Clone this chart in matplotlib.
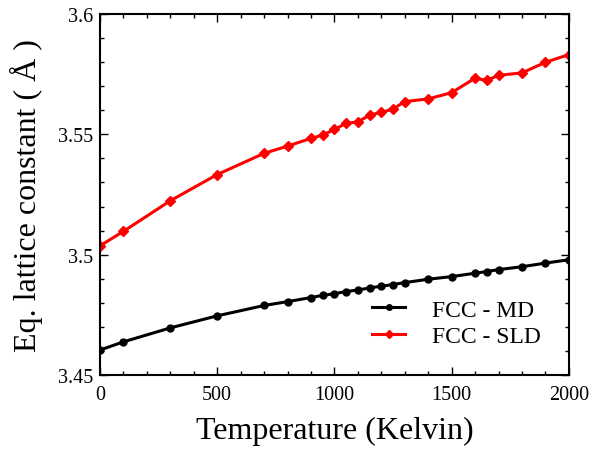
import numpy as np
import matplotlib.pyplot as plt
from matplotlib.ticker import MultipleLocator

plt.rcParams['font.family'] = ['Liberation Serif', 'DejaVu Serif']

temps = [0, 100, 300, 500, 700, 800, 900, 950, 1000, 1050, 1100, 1150,
         1200, 1250, 1300, 1400, 1500, 1600, 1650, 1700, 1800, 1900, 2000]

lat_md = [3.4604, 3.4638, 3.4696, 3.4746, 3.4789, 3.4805, 3.4822, 3.4831,
          3.4838, 3.4847, 3.4853, 3.4862, 3.4869, 3.4876, 3.4884, 3.4898,
          3.4909, 3.4923, 3.4930, 3.4938, 3.4950, 3.4965, 3.4979]

lat_sld = [3.5037, 3.5097, 3.5224, 3.5333, 3.5421, 3.5451, 3.5483, 3.5497,
           3.5520, 3.5546, 3.5551, 3.5580, 3.5591, 3.5605, 3.5636, 3.5647,
           3.5673, 3.5733, 3.5724, 3.5745, 3.5755, 3.5799, 3.5831]

fig = plt.figure(figsize=(6.11, 4.52), dpi=100)
ax = fig.add_axes([0.1637, 0.168, 0.7673, 0.799])

ax.plot(temps, lat_md, color='black', lw=2.2, marker='o', ms=5, label='FCC - MD')
ax.plot(temps, lat_sld, color='red', lw=2.2, marker='D', ms=5.5, label='FCC - SLD')

ax.set_xlim(0, 2000)
ax.set_ylim(3.45, 3.6)
ax.xaxis.set_major_locator(MultipleLocator(500))
ax.xaxis.set_minor_locator(MultipleLocator(100))
ax.yaxis.set_minor_locator(MultipleLocator(0.01))
ax.set_yticks([3.45, 3.5, 3.55, 3.6])
ax.set_yticklabels(['3.45', '3.5', '3.55', '3.6'])
ax.tick_params(which='both', direction='in', top=True, right=True, labelsize=14.5)
ax.tick_params(which='major', length=6, width=1)
ax.tick_params(which='minor', length=3, width=1)
ax.tick_params(axis='x', which='major', pad=7)
ax.tick_params(axis='y', which='major', pad=5)
for s in ax.spines.values():
    s.set_linewidth(1.5)

ax.set_xlabel('Temperature (Kelvin)', fontsize=23, labelpad=9)
ax.set_ylabel('Eq. lattice constant ( Å )', fontsize=23, labelpad=11)

ax.legend(loc='lower right', bbox_to_anchor=(0.966, 0.045), frameon=False,
          fontsize=17, handlelength=1.4, handletextpad=1.15, labelspacing=0.2,
          borderpad=0, markerscale=0.8)

fig.savefig('out.png', dpi=100)
